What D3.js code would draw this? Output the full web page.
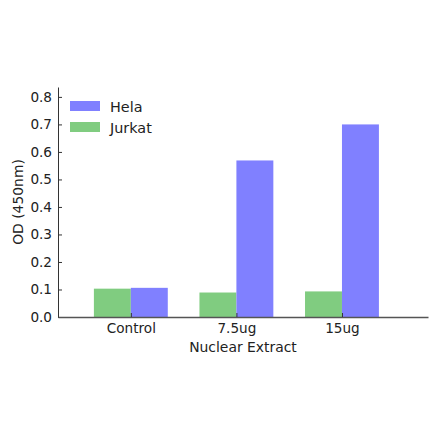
<!DOCTYPE html>
<html>
<head>
<meta charset="utf-8">
<script src="https://cdn.jsdelivr.net/npm/d3@7"></script>
<style>
  body { margin: 0; background: #fff; }
  #chart { width: 440px; height: 441px; }
</style>
</head>
<body>
<div id="chart"></div>
<script>
const categories = ["Control", "7.5ug", "15ug"];
const jurkatValues = [0.103, 0.089, 0.093];
const helaValues = [0.106, 0.569, 0.700];
const yTicks = [0.0, 0.1, 0.2, 0.3, 0.4, 0.5, 0.6, 0.7, 0.8];

const width = 440;
const height = 441;
const margin = { top: 87, right: 12, bottom: 124, left: 58 };

const colors = { "Hela": "#8080ff", "Jurkat": "#80cc80" };

const svg = d3.select("#chart").append("svg")
    .attr("width", width)
    .attr("height", height)
    .style("font-family", "'DejaVu Sans', sans-serif");

const x = d3.scaleLinear()
    .domain([-0.69, 2.815])
    .range([margin.left, width - margin.right]);

const y = d3.scaleLinear()
    .domain([0, 0.836])
    .range([height - margin.bottom, margin.top]);

const barW = 0.35;

// bars
const bars = svg.append("g");
categories.forEach((c, i) => {
    bars.append("rect")
        .attr("x", x(i - barW))
        .attr("y", y(jurkatValues[i]))
        .attr("width", x(i) - x(i - barW))
        .attr("height", y(0) - y(jurkatValues[i]))
        .attr("fill", colors.Jurkat);
    bars.append("rect")
        .attr("x", x(i))
        .attr("y", y(helaValues[i]))
        .attr("width", x(i + barW) - x(i))
        .attr("height", y(0) - y(helaValues[i]))
        .attr("fill", colors.Hela);
});

// axes
const yAxis = svg.append("g")
    .attr("transform", `translate(${margin.left},0)`)
    .call(d3.axisLeft(y).tickValues(yTicks).tickFormat(d3.format(".1f")).tickSizeInner(-4).tickSizeOuter(0).tickPadding(6));
yAxis.attr("font-family", null).attr("font-size", null);
yAxis.select(".domain").attr("stroke", "#333");
yAxis.selectAll(".tick line").attr("stroke", "#333");
yAxis.selectAll("text").attr("fill", "#222").style("font-size", "13.6px");

const xAxis = svg.append("g")
    .attr("transform", `translate(0,${height - margin.bottom})`)
    .call(d3.axisBottom(x).tickValues(d3.range(categories.length)).tickFormat(i => categories[i]).tickSizeInner(-4).tickSizeOuter(0).tickPadding(6));
xAxis.attr("font-family", null).attr("font-size", null);
xAxis.select(".domain").attr("stroke", "#555").attr("stroke-width", 1.5);
xAxis.selectAll(".tick line").attr("stroke", "#333");
xAxis.selectAll("text").attr("fill", "#222").style("font-size", "13.6px");

// axis labels
svg.append("text")
    .attr("transform", "rotate(-90)")
    .attr("x", -(margin.top + (height - margin.top - margin.bottom) / 2))
    .attr("y", 23)
    .attr("text-anchor", "middle")
    .attr("fill", "#222")
    .style("font-size", "13.9px")
    .text("OD (450nm)");

svg.append("text")
    .attr("x", margin.left + (width - margin.left - margin.right) / 2)
    .attr("y", 352)
    .attr("text-anchor", "middle")
    .attr("fill", "#222")
    .style("font-size", "13.9px")
    .text("Nuclear Extract");

// legend
const legend = svg.append("g").attr("transform", `translate(70, 101)`);
["Hela", "Jurkat"].forEach((name, i) => {
    const g = legend.append("g").attr("transform", `translate(0, ${i * 21})`);
    g.append("rect")
        .attr("width", 30)
        .attr("height", 10)
        .attr("fill", colors[name]);
    g.append("text")
        .attr("x", 40)
        .attr("y", 10.5)
        .attr("fill", "#222")
        .style("font-size", "14.4px")
        .text(name);
});
</script>
</body>
</html>
